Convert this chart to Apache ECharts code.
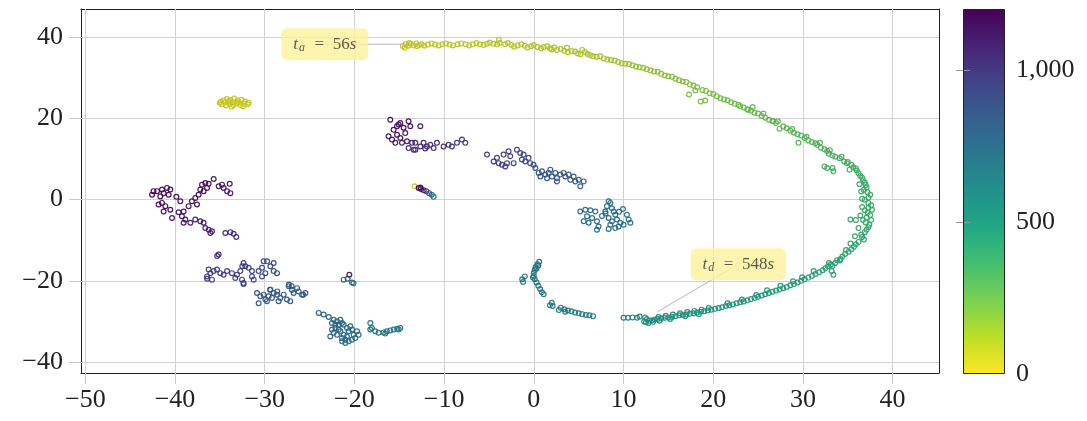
<!DOCTYPE html>
<html><head><meta charset="utf-8">
<script src="https://cdn.jsdelivr.net/npm/echarts@6/dist/echarts.min.js"></script>
<style>html,body{margin:0;padding:0;background:#fff}#c{width:1087px;height:421px}</style>
</head><body><div id="c"></div>
<script>
// ---- tick labels ----
const xTicks = [-50,-40,-30,-20,-10,0,10,20,30,40];
const yTicks = [-40,-20,0,20,40];
const colorTicks = [0,500,1000];
// viridis stops for the colour bar, value 0 (yellow) -> 1200 (purple)
const viridisStops = ['#fde725','#bddf26','#7ad151','#44bf70','#22a884','#21918c','#2a788e','#355f8d','#414487','#482475','#440154'];
// the same map as it appears on the thin rings of the markers
const ringStops = ['#d2c61e','#a9c326','#6db848','#3ca865','#1f9678','#1e8280','#266e85','#305887','#3c4283','#462470','#420352'];

// ---- data: [x, y, t(s)] ----
const startCluster = [[-35.0,23.8,30],[-34.6,24.4,32],[-34.2,24.8,34],[-33.8,24.5,36],[-33.4,24.9,38],[-33.0,24.4,40],[-32.6,24.6,42],[-32.2,24.2,44],[-31.8,23.9,46],[-34.8,23.5,31],[-34.3,23.2,33],[-33.9,23.6,35],[-33.5,23.3,37],[-33.1,23.7,39],[-32.7,23.3,41],[-32.3,23.6,43],[-31.9,23.5,45],[-34.4,24.0,34],[-33.6,24.0,38],[-32.9,24.0,41],[-33.7,22.9,36],[-34.0,24.3,35],[-34.9,24.1,30],[-32.4,23.0,44]];

const startTrail = [[-13.3,3.3,8],[-12.65,3.0,1190],[-12.84,2.9,1185],[-12.58,2.6,1170],[-12.28,2.3,1110],[-11.98,2.1,990],[-11.68,1.6,860],[-11.39,1.2,730],[-11.17,0.7,660]];

const arcOuter = [[-14.6,37.8,56],[-14.3,38.3,56],[-14.0,37.9,57],[-13.7,38.4,57],[-13.4,38.0,58],[-13.1,38.5,58],[-12.8,38.1,59],[-14.4,37.4,56],[-13.0,37.8,59],[-12.5,38.3,60],[-11.8,38.2,62],[-11.0,38.2,64],[-10.2,38.3,66],[-9.4,38.2,69],[-8.5,38.3,71],[-7.6,38.3,74],[-6.8,38.3,76],[-6.0,38.3,79],[-5.2,38.4,81],[-4.5,38.4,84],[-3.8,38.6,86],[-3.9,39.4,87],[-3.2,38.3,88],[-2.5,38.1,90],[-1.8,38.0,93],[-1.0,37.9,95],[-0.3,37.8,98],
[0.4,37.6,101],[1.1,37.6,105],[1.8,37.3,108],[2.3,37.5,110],[2.6,36.9,112],[3.4,36.7,116],[3.7,37.4,117],[4.2,36.6,120],[4.9,36.0,124],[5.4,36.9,126],[5.7,36.4,128],[6.3,35.6,131],[7.0,35.2,135],[7.8,34.8,139],[8.6,34.4,143],[9.4,33.9,147],
[10.2,33.5,151],[11.0,33.1,157],[11.8,32.6,162],[12.6,32.1,168],[13.4,31.6,174],[14.2,31.0,179],[15.0,30.4,185],[15.8,29.8,190],[16.6,29.1,196],[17.4,28.4,201],[18.2,27.7,207],[18.0,26.9,207],[18.8,27.0,211],[19.6,26.2,217],
[20.4,25.5,223],[21.2,24.7,229],[22.0,24.0,236],[22.4,23.6,239],[23.0,23.0,244],[23.8,22.2,250],[24.4,22.8,255],[24.6,21.4,257],[25.4,20.6,263],[26.2,19.7,270],[27.0,18.9,276],[27.4,17.5,279],[27.8,18.0,282],[28.6,17.0,289],[29.4,16.1,295],
[30.2,15.2,301],[31.0,14.2,308],[31.6,13.5,313],[32.4,12.4,320],[32.9,11.3,325],[33.6,10.6,330],[34.1,10.2,333],[34.6,9.4,337],[35.4,8.6,343],[35.9,7.7,347],[35.2,7.4,347],[36.2,6.5,351],[36.6,5.4,355],[36.9,4.2,359],[37.1,3.0,362],[37.2,1.8,365],[37.3,0.5,369],
[37.3,-0.8,372],[37.3,-2.0,375],[37.2,-3.2,378],[37.1,-4.4,381],[35.3,-4.9,383],[35.9,-5.0,384],[37.0,-5.6,385],[37.3,-6.8,389],[36.9,-8.0,393],[36.6,-9.2,397],[36.2,-10.4,402],[35.7,-11.6,408],[35.1,-12.8,414],[34.4,-14.0,420],
[34.1,-15.0,425],[33.6,-15.6,429],[33.1,-16.0,432],[32.5,-16.9,437],[31.8,-17.9,443],[31.0,-18.8,449],[30.2,-19.6,455],[29.4,-20.4,461],[28.6,-21.1,467],
[27.8,-21.8,472],[27.0,-22.4,476],[26.2,-23.0,480],[25.4,-23.6,484],[24.6,-24.2,488],[23.8,-24.8,492],[23.0,-25.3,496],[22.2,-25.8,500],[21.4,-26.2,504],[20.6,-26.7,508],
[19.8,-27.1,512],[19.0,-27.5,516],[18.2,-27.8,520],[17.4,-28.1,524],[16.6,-28.4,528],[15.8,-28.7,532],[15.0,-29.0,536],[14.2,-29.3,540],[13.5,-29.5,543],[12.9,-29.8,546],[12.6,-29.4,547],[12.5,-30.2,548]];

const arcInner = [[-13.9,38.6,57],[-12.2,37.9,61],[-11.4,38.5,63],[-10.6,38.0,65],[-9.8,38.5,67],[-9.0,38.0,70],[-8.1,38.5,73],[-7.2,38.0,75],[-6.4,38.6,77],[-5.6,38.1,80],[-4.9,38.7,82],[-4.1,38.2,85],[-2.9,38.6,89],[-2.2,37.7,91],[-1.4,38.3,94],[-0.7,37.5,96],[0.0,38.1,99],[0.8,37.3,103],[1.5,37.8,106],[2.0,37.0,109],[3.0,37.1,114],[3.8,36.3,118],[4.6,36.5,122],[5.2,35.8,125],[6.0,35.9,130],[6.6,35.3,133],[7.4,35.3,137],[8.2,34.5,141],[9.0,34.3,145],[9.8,33.6,149],[10.6,33.4,154],[11.4,32.8,160],[12.2,32.5,165],[13.0,31.8,171],[13.8,31.5,176],[14.6,30.6,182],[15.4,30.3,187],[16.2,29.4,193],[17.0,29.0,198],[17.8,28.1,204],[19.2,26.8,214],[20.0,26.0,220],[20.8,25.0,226],[21.6,24.5,233],[22.8,23.4,242],[23.4,22.7,247],[24.2,21.9,253],[25.0,21.2,260],[25.8,20.2,266],[26.6,19.4,273],[28.2,17.6,286],[29.0,16.5,292],[29.8,15.8,298],[30.6,14.6,305],[31.4,13.9,311],[32.0,12.8,317],[32.7,12.0,322],[33.3,10.9,327],[34.9,9.0,340],[35.6,8.0,345],[36.0,7.2,349],[36.4,5.9,353],[36.7,4.8,357],[37.0,3.6,360],[36.8,2.4,364],[37.5,1.2,367],[36.9,0.0,370],[37.6,-1.4,374],[36.9,-2.6,377],[37.5,-3.8,380],[36.7,-5.0,383],[37.4,-6.2,387],[37.1,-7.4,391],[36.5,-8.6,395],[36.8,-9.8,400],[35.9,-11.0,405],[35.4,-12.2,411],[34.7,-13.4,417],[34.2,-14.6,423],[33.3,-16.3,434],[32.8,-16.4,435],[32.2,-17.4,440],[31.4,-18.3,446],[30.6,-19.2,452],[29.8,-20.0,458],[29.0,-20.8,464],[28.2,-21.5,470],[27.4,-22.1,474],[26.6,-22.7,478],[25.8,-23.3,482],[25.0,-23.9,486],[24.2,-24.5,490],[23.4,-25.1,494],[22.6,-25.5,498],[21.8,-26.0,502],[21.0,-26.5,506],[20.2,-26.9,510],[19.4,-27.3,514],[18.6,-27.6,518],[17.8,-28.0,522],[17.0,-28.3,526],[16.2,-28.5,530],[15.4,-28.9,534],[14.6,-29.1,538],[13.8,-29.4,542],[13.2,-29.7,545]];

const arcBand = [[19.5,-26.7,513],[18.7,-27.1,517],[17.9,-27.4,521],[17.1,-27.7,525],[16.3,-28.0,529],[15.5,-28.3,533],[14.7,-28.6,537],[13.9,-28.9,541],[18.4,-28.2,519],[16.9,-28.7,526],[15.2,-29.4,535],[14.0,-29.8,541],[13.3,-30.1,544],
[33.8,-14.9,426],[32.9,-15.6,433],[31.2,-17.6,447],[29.9,-19.1,456],[28.9,-20.1,463],[27.5,-21.2,471],[26.0,-22.3,481],[24.8,-23.5,487],[23.2,-24.6,495],[21.6,-25.5,503],
[36.3,3.8,359],[36.5,2.0,364],[36.6,0.2,369],[36.6,-1.8,375],[36.4,-3.9,380],[36.2,-7.0,389],[35.8,-9.0,396],[35.3,-10.8,404],[34.8,-12.4,412],[37.7,-2.5,376],[37.6,-5.0,383],
[25.6,21.2,265],[27.2,19.3,277],[28.8,17.4,290],[30.4,15.5,303],[31.9,14.0,314],[33.0,12.2,324],[34.3,10.6,334],[35.0,9.3,341]];

const arcOutliers = [[17.3,25.9,203],[18.6,24.2,209],[19.1,24.4,211],[23.9,22.2,249],[26.7,19.3,272],[29.5,14.0,300],[32.4,8.2,338],[32.7,7.8,339],[33.3,7.8,340],[33.4,7.0,341],[33.4,-18.5,436],[33.2,-17.6,437]];

const afterArc = [[12.3,-30.0,550],[12.4,-29.0,552],[12.8,-30.4,553],[11.8,-28.8,618],[11.5,-29.1,620],[11.0,-29.0,622],[10.5,-29.1,624],[10.0,-29.1,626],[6.6,-28.7,635],[6.2,-28.5,637],[5.8,-28.4,639],[5.4,-28.2,641],[5.0,-28.0,643],[4.6,-27.8,645],[4.2,-27.5,647],[3.8,-27.3,649],[3.4,-27.0,651],[3.0,-26.6,653],[2.8,-27.2,654],[3.5,-27.6,648],[2.0,-25.4,657],[1.8,-26.0,656],[2.1,-26.2,655],[1.1,-23.3,662],[0.9,-22.8,664],[0.7,-22.0,666],[0.5,-21.2,668],[0.3,-20.4,670],[0.1,-19.6,672],[0.0,-18.8,674],[0.0,-18.0,676],[0.1,-17.3,678],[0.2,-16.6,680],[0.4,-15.9,682],[0.6,-15.3,684],[-0.1,-19.2,673],[-1.2,-20.3,686],[-1.3,-19.6,687],[-1.0,-18.9,688],[0.3,-17.0,679],[0.5,-16.2,681]];

const clusterEast = [[5.18,-2.9,735],[5.74,-2.5,733],[6.30,-2.6,731],[6.86,-2.9,729],[5.93,-4.1,737],[5.56,-5.3,740],[6.11,-5.7,742],[7.04,-5.3,738],[7.22,-6.6,744],[7.04,-7.4,746],[7.97,-2.9,725],[8.15,-1.6,722],[8.34,-0.4,718],[8.53,-0.8,719],[8.71,-2.1,721],[8.90,-2.9,723],[9.08,-3.7,726],[8.34,-4.5,728],[8.71,-5.3,730],[9.27,-4.9,727],[9.64,-5.7,724],[9.45,-6.6,726],[10.01,-6.2,720],[9.94,-2.3,712],[10.38,-3.7,714],[10.57,-4.9,716],[10.76,-5.7,718],[8.34,-7.2,748],[9.08,-7.0,745],[8.53,-6.2,741],[6.5,-4.5,739],[7.6,-4.0,732],[8.0,-3.4,727],[9.5,-3.0,717]];

const clusterCenter = [[-5.22,11.1,1000],[-4.48,9.4,995],[-4.11,10.3,992],[-3.92,9.0,988],[-3.55,8.6,984],[-3.37,11.1,986],[-2.99,9.0,980],[-2.81,11.9,978],[-2.62,10.7,975],[-2.25,9.0,970],[-3.18,8.2,982],[-1.88,12.3,960],[-1.51,11.5,955],[-1.14,11.1,950],[-1.33,9.9,945],[-0.96,9.4,935],[-0.59,10.3,930],[-0.40,9.0,920],[-0.03,8.6,910],[0.17,7.8,900],[0.54,6.6,890],[0.91,7.0,885],[1.28,6.2,878],[1.65,6.6,872],[2.02,5.7,866],[2.40,6.6,862],[2.58,5.3,858],[2.95,6.2,855],[3.32,6.6,852],[3.51,5.7,848],[3.88,6.2,845],[4.07,4.9,842],[4.44,5.7,838],[4.63,4.5,834],[5.00,4.9,830],[5.18,3.3,822],[5.56,4.5,826],[0.73,5.7,888],[1.47,5.3,875],[2.58,4.5,856],[1.84,7.4,870]];

const clusterUpper = [[-16.0,19.7,1160],[-15.07,18.5,1158],[-14.52,17.7,1155],[-13.96,19.3,1162],[-13.77,18.1,1150],[-12.65,18.1,1120],[-15.63,17.2,1165],[-15.25,16.0,1160],[-15.81,14.8,1155],[-14.88,15.2,1150],[-14.33,16.4,1152],[-16.19,15.6,1168],[-15.44,14.0,1140],[-14.70,14.0,1130],[-14.14,14.4,1125],[-13.58,14.0,1110],[-13.21,14.0,1100],[-13.96,12.7,1080],[-13.21,12.3,1070],[-12.65,13.1,1075],[-12.29,14.0,1085],[-11.91,13.1,1065],[-11.54,13.5,1060],[-11.17,12.7,1050],[-10.80,14.0,1055],[-10.06,13.1,1040],[-9.50,13.5,1035],[-9.13,13.1,1030],[-8.57,14.0,1025],[-8.01,14.8,1030],[-7.64,14.0,1020],[-13.40,12.3,1040],[-12.1,12.6,1045],[-15.25,18.1,1163],[-14.88,18.9,1160]];

const clusterLeft = [[-42.56,1.2,1190],[-42.0,2.1,1188],[-41.45,2.5,1185],[-40.89,2.9,1182],[-40.52,2.5,1178],[-41.27,1.6,1186],[-41.64,0.8,1189],[-40.71,1.2,1180],[-41.45,-0.8,1175],[-41.83,-1.2,1177],[-41.08,-1.6,1170],[-41.27,-2.9,1165],[-40.52,-2.5,1160],[-40.33,-4.5,1150],[-39.85,0.7,1172],[-39.6,-3.1,1140],[-39.04,-2.9,1138],[-39.23,-4.1,1130],[-38.85,-4.9,1125],[-39.04,-5.7,1120],[-38.29,-5.7,1118],[-38.48,-1.6,1145],[-38.11,-0.4,1150],[-37.74,0.4,1155],[-37.37,1.2,1158],[-37.18,2.5,1160],[-36.99,3.7,1165],[-36.62,4.1,1168],[-36.25,3.9,1166],[-36.81,2.1,1160],[-36.43,2.9,1162],[-37.55,-1.2,1148],[-37.74,-4.9,1115],[-37.18,-5.3,1112],[-36.81,-5.7,1108],[-36.62,-7.0,1100],[-36.25,-7.4,1095],[-36.06,-8.2,1090],[-35.88,-7.8,1092],[-35.69,5.1,1150],[-35.13,3.3,1145],[-34.76,3.7,1142],[-34.58,2.9,1140],[-34.2,2.1,1135],[-33.83,1.6,1130],[-33.9,3.9,1138],[-34.39,-8.2,1065],[-33.83,-8.0,1060],[-33.47,-8.4,1058],[-33.17,-9.2,1055],[-39.41,-0.4,1152],[-42.4,2.1,1192]];

const clusterMidLeft = [[-35.14,-13.5,1060],[-35.3,-13.9,1058],[-36.25,-17.2,1000],[-36.43,-18.9,995],[-36.06,-18.1,998],[-35.69,-17.6,996],[-35.32,-17.2,992],[-34.95,-18.1,990],[-34.58,-18.5,985],[-35.88,-19.7,993],[-36.43,-19.5,997],[-34.2,-17.6,982],[-33.65,-18.1,978],[-33.09,-18.5,975],[-32.72,-17.6,972],[-33.28,-19.3,970],[-32.53,-19.7,965],[-32.36,-20.5,960],[-32.36,-15.6,985],[-32.16,-16.4,980],[-31.79,-16.8,975],[-31.42,-17.6,968],[-31.42,-18.9,962],[-31.23,-19.7,958],[-30.68,-17.6,955],[-30.3,-16.8,952],[-30.12,-15.2,950],[-29.74,-15.2,948],[-29.37,-16.4,945],[-29.93,-18.1,942],[-30.3,-18.9,944],[-29.0,-17.6,938],[-28.63,-18.1,935],[-32.36,-20.8,956],[-32.5,-16.4,983],[-29.0,-15.6,990],
[-30.86,-23.0,880],[-30.49,-23.8,876],[-30.12,-23.4,872],[-29.93,-24.6,868],[-29.56,-23.8,866],[-29.19,-24.2,862],[-29.0,-23.0,860],[-29.37,-22.2,864],[-28.63,-23.4,858],[-28.26,-24.2,855],[-27.89,-23.4,852],[-27.52,-24.6,848],[-27.33,-21.3,846],[-26.96,-22.2,843],[-26.78,-23.0,840],[-26.4,-21.8,838],[-26.22,-22.6,835],[-25.84,-23.4,832],[-25.47,-23.0,828],[-27.15,-25.0,845],[-30.68,-25.5,870],[-29.75,-25.0,866],[-28.45,-25.0,856],[-29.4,-22.2,864],[-28.6,-22.6,860],[-27.3,-20.9,850],[-27.0,-21.3,848],[-25.7,-23.4,830]];

const clusterSouth = [[-23.98,-27.9,790],[-23.43,-28.3,788],[-22.87,-28.9,785],[-22.31,-29.6,782],[-21.94,-30.0,780],[-21.57,-29.6,778],[-21.38,-30.4,776],[-21.76,-30.8,774],[-22.13,-31.6,772],[-22.5,-32.0,770],[-22.31,-32.8,768],[-22.69,-33.7,766],[-21.94,-33.3,764],[-21.57,-32.4,762],[-21.38,-34.1,760],[-21.01,-34.5,758],[-21.2,-33.3,756],[-20.83,-33.7,754],[-20.64,-32.4,752],[-20.46,-31.2,750],[-20.27,-32.0,748],[-20.09,-33.3,746],[-19.9,-34.1,744],[-19.71,-32.4,742],[-19.53,-33.3,740],[-20.27,-34.5,745],[-20.64,-34.9,750],[-21.38,-34.9,755],[-21.01,-35.3,752],[-21.75,-32.0,765],[-22.5,-30.4,778],[-22.13,-30.8,775],[-20.83,-31.6,760],[-21.2,-30.8,770]];

const clusterSouthTail = [[-18.23,-30.4,700],[-18.05,-31.6,695],[-18.23,-32.0,692],[-17.68,-32.4,688],[-17.31,-32.8,684],[-16.75,-32.7,680],[-16.38,-32.4,676],[-16.0,-32.2,672],[-15.63,-32.0,666],[-15.25,-31.8,660],[-14.88,-31.6,650],[-15.06,-32.0,655],[-16.56,-33.0,678]];

const isolated = [[-20.57,-18.5,1160],[-21.2,-19.7,800],[-20.76,-19.5,760],[-20.27,-20.4,700],[-20.1,-20.6,690]];

// annotations: text pieces, data point they refer to, label position (data units)
const annotations = [
  {sub:'a', value:'56', anchor:[-14.2,38.3], labelAt:[-23.3,38.3]},
  {sub:'d', value:'548', anchor:[13.8,-27.6], labelAt:[22.8,-15.9]}
];

const points = [].concat(startCluster, startTrail, arcOuter, arcInner, arcBand, arcOutliers, afterArc, clusterEast,
  clusterCenter, clusterUpper, clusterLeft, clusterMidLeft, clusterSouth, clusterSouthTail, isolated)
  .slice().sort((a,b)=>a[2]-b[2]);

const FONT = 'Liberation Serif';
const fmt = v => String(v).replace('-', '\u2212');

const annSeries = [];
annotations.forEach(a => {
  annSeries.push({type:'line', xAxisIndex:0, yAxisIndex:0, data:[a.anchor, a.labelAt], symbol:'none',
    lineStyle:{color:'#b8b8b8', width:1}, silent:true, z:3, animation:false});
});
annSeries.push({
  type:'scatter', xAxisIndex:0, yAxisIndex:0, z:6, silent:true, animation:false,
  symbolSize:1, itemStyle:{color:'rgba(0,0,0,0)'},
  data: annotations.map(a => ({value:a.labelAt, label:{formatter:'{i|t}{s|' + a.sub + '}{n|\u2002=\u2002' + a.value + '}{i|s}'}})),
  label:{show:true, position:'inside', backgroundColor:'#fdf39b', borderRadius:6, padding:[6,12,6,12],
    color:'#333', fontFamily:FONT, fontSize:17,
    rich:{
      i:{fontFamily:FONT, fontStyle:'italic', fontSize:17, color:'#333', lineHeight:20},
      n:{fontFamily:FONT, fontSize:17, color:'#333', lineHeight:20},
      s:{fontFamily:FONT, fontStyle:'italic', fontSize:12, color:'#333', lineHeight:20, padding:[8,1,0,1]}
    }}
});

const chart = echarts.init(document.getElementById('c'), null, {renderer:'canvas'});
chart.setOption({
  animation:false,
  backgroundColor:'#fff',
  grid:[
    {left:81, top:9, width:858, height:364, show:false},
    {left:963, top:9, width:42, height:365, show:false}
  ],
  xAxis:[
    {gridIndex:0, type:'value', min:-50.48, max:45.17, position:'bottom', splitNumber:10,
      axisLine:{show:true, onZero:false, lineStyle:{color:'#222', width:1}},
      axisTick:{show:true, inside:false, length:11, customValues:xTicks, lineStyle:{color:'#c8c8c8'}},
      axisLabel:{customValues:xTicks, fontFamily:FONT, fontSize:26, color:'#222', margin:14,
        formatter:v => (Math.abs(v % 10) < 1e-9 ? fmt(v) : '')},
      splitLine:{show:false}},
    {gridIndex:0, type:'value', min:-50.48, max:45.17, position:'top',
      axisLine:{show:true, onZero:false, lineStyle:{color:'#222', width:1}},
      axisTick:{show:false}, axisLabel:{show:false}, splitLine:{show:false}},
    {gridIndex:1, type:'value', min:0, max:1, show:false}
  ],
  yAxis:[
    {gridIndex:0, type:'value', min:-42.7, max:46.97, position:'left', splitNumber:5,
      axisLine:{show:true, onZero:false, lineStyle:{color:'#222', width:1}},
      axisTick:{show:true, inside:false, length:12, customValues:yTicks, lineStyle:{color:'#c8c8c8'}},
      axisLabel:{customValues:yTicks, fontFamily:FONT, fontSize:26, color:'#222', margin:18,
        formatter:v => (Math.abs(v % 20) < 1e-9 ? fmt(v) : '')},
      splitLine:{show:false}},
    {gridIndex:0, type:'value', min:-42.7, max:46.97, position:'right',
      axisLine:{show:true, onZero:false, lineStyle:{color:'#222', width:1}},
      axisTick:{show:false}, axisLabel:{show:false}, splitLine:{show:false}},
    {gridIndex:1, type:'value', min:0, max:1200, interval:500, position:'right', zlevel:1, z:8,
      axisLine:{show:false}, splitLine:{show:false},
      axisTick:{show:true, inside:true, length:7, customValues:colorTicks.filter(v=>v>0), lineStyle:{color:'#9a9a9a'}},
      axisLabel:{customValues:colorTicks, fontFamily:FONT, fontSize:26, color:'#222', margin:11,
        formatter:v => (v === 1200 ? '' : v.toLocaleString('en-US'))}},
    {gridIndex:1, type:'value', min:0, max:1200, interval:500, position:'left', zlevel:1, z:8,
      axisLine:{show:false}, splitLine:{show:false},
      axisTick:{show:true, inside:true, length:7, customValues:colorTicks.filter(v=>v>0), lineStyle:{color:'#9a9a9a'}},
      axisLabel:{show:false}}
  ],
  visualMap:[{
    type:'continuous', min:0, max:1200, seriesIndex:0, z:2,
    orient:'vertical', left:963, top:9, itemWidth:42, itemHeight:365, padding:0,
    calculable:false, realtime:false, text:null, hoverLink:false,
    inRange:{color:viridisStops}
  },{
    type:'continuous', show:false, min:0, max:1200, dimension:2, seriesIndex:1,
    inRange:{color:ringStops}
  }],
  graphic:[{type:'rect', zlevel:1, z:20, silent:true, shape:{x:963.5, y:9.5, width:41, height:364},
    style:{fill:'none', stroke:'#222', lineWidth:1}}],
  series:[
    {type:'line', xAxisIndex:0, yAxisIndex:0, data:[], silent:true, z:1,
      markLine:{silent:true, z:1, symbol:['none','none'], label:{show:false}, animation:false,
        lineStyle:{color:'#d2d2d2', width:1, type:'solid'},
        emphasis:{disabled:true},
        data:[].concat(xTicks.map(v=>({xAxis:v})), yTicks.map(v=>({yAxis:v})))}},
    {type:'custom', name:'samples', xAxisIndex:0, yAxisIndex:0, z:2, silent:true,
      dimensions:['x','y','t'], encode:{x:0, y:1},
      data:points,
      renderItem:(params, api) => {
        const p = api.coord([api.value(0), api.value(1)]);
        return {type:'circle', shape:{cx:p[0], cy:p[1], r:2.4},
          style:{fill:'none', stroke:api.visual('color'), lineWidth:1.2, opacity:0.95}};
      }},
  ].concat(annSeries)
});
</script></body></html>
